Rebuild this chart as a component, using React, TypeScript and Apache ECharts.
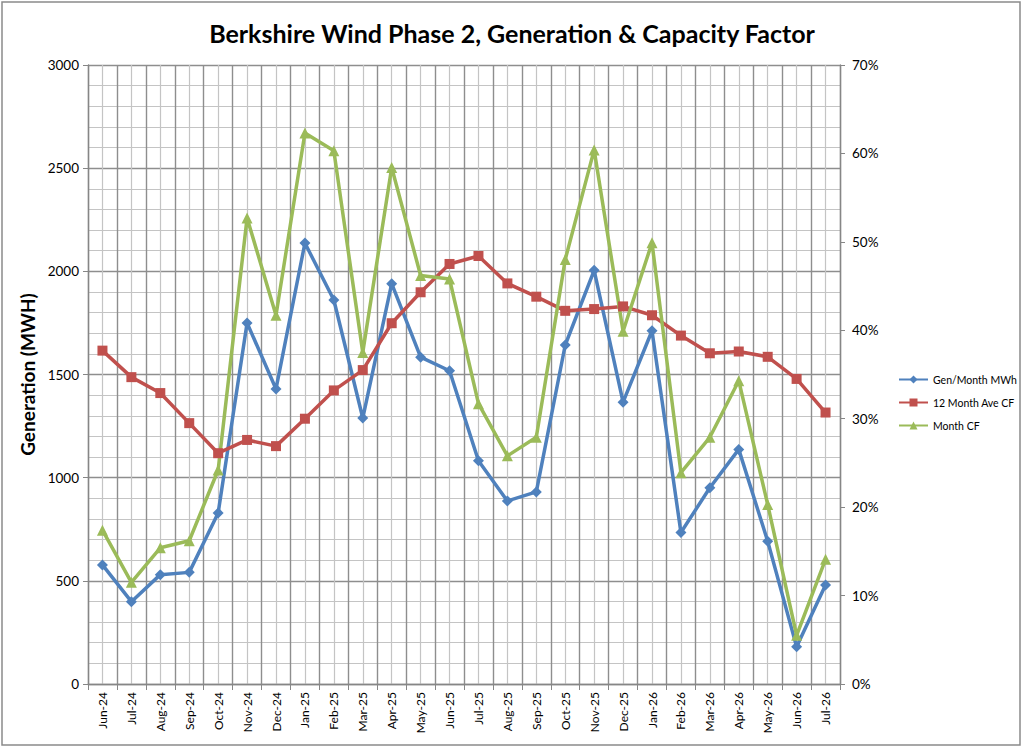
import React, { useEffect, useRef } from "react";
import * as echarts from "echarts";

const months = [
  "Jun-24", "Jul-24", "Aug-24", "Sep-24", "Oct-24", "Nov-24", "Dec-24",
  "Jan-25", "Feb-25", "Mar-25", "Apr-25", "May-25", "Jun-25", "Jul-25",
  "Aug-25", "Sep-25", "Oct-25", "Nov-25", "Dec-25", "Jan-26", "Feb-26",
  "Mar-26", "Apr-26", "May-26", "Jun-26", "Jul-26",
];

const genMonthMWh = [
  577, 399, 530, 541, 829, 1750, 1430, 2137, 1861, 1289, 1940, 1584, 1518,
  1082, 887, 931, 1643, 2005, 1366, 1712, 734, 951, 1137, 692, 180, 480,
];

const aveCF12Month = [
  37.7, 34.7, 32.9, 29.5, 26.1, 27.6, 26.9, 30.0, 33.2, 35.5, 40.8, 44.3,
  47.5, 48.4, 45.3, 43.8, 42.2, 42.4, 42.7, 41.7, 39.4, 37.4, 37.6, 37.0,
  34.5, 30.7,
];

const monthCF = [
  17.4, 11.5, 15.4, 16.2, 24.2, 52.7, 41.7, 62.3, 60.3, 37.5, 58.4, 46.2,
  45.8, 31.7, 25.8, 27.9, 48.0, 60.4, 39.9, 49.9, 23.9, 27.9, 34.3, 20.3,
  5.5, 14.1,
];

const FONT = "Lato, 'Open Sans', sans-serif";
const DARK_GRID = "#8e8e8e";
const LIGHT_GRID = "#c4c4c4";
const AXIS = "#868686";

export default function App() {
  const ref = useRef<HTMLDivElement>(null);

  useEffect(() => {
    document.body.style.margin = "0";
    if (!ref.current) return;
    const chart = echarts.init(ref.current, null, { renderer: "svg" });
    chart.setOption({
      animation: false,
      backgroundColor: "#ffffff",
      textStyle: { fontFamily: FONT },
      title: {
        text: "Berkshire Wind Phase 2, Generation & Capacity Factor",
        left: "center",
        top: 15,
        textStyle: { fontFamily: FONT, fontSize: 25, fontWeight: "bold", color: "#000" },
      },
      graphic: [
        {
          type: "rect",
          shape: { x: 2, y: 2, width: 1018, height: 743 },
          style: { fill: "none", stroke: "#8a8a8a", lineWidth: 1.5 },
          silent: true,
        },
      ],
      legend: {
        orient: "vertical",
        left: 893,
        top: 369,
        itemWidth: 29,
        itemHeight: 10,
        itemGap: 12,
        textStyle: { fontFamily: FONT, fontSize: 10.5, color: "#000" },
        data: ["Gen/Month MWh", "12 Month Ave CF", "Month CF"],
      },
      grid: { left: 88, right: 184, top: 65, bottom: 65, containLabel: false },
      xAxis: [
        {
          type: "category",
          data: months,
          boundaryGap: true,
          position: "bottom",
          axisLine: { show: true, lineStyle: { color: AXIS, width: 1.3 } },
          axisTick: { show: true, interval: 0, length: 6, lineStyle: { color: AXIS } },
          axisLabel: {
            interval: 0,
            rotate: 90,
            fontSize: 12,
            color: "#000",
            fontFamily: FONT,
            margin: 8,
          },
          splitLine: { show: false },
        },
        {
          type: "value",
          min: 0,
          max: 26,
          interval: 1,
          position: "top",
          axisLine: { show: false },
          axisTick: { show: false },
          axisLabel: { show: false },
          minorTick: { show: false, splitNumber: 2 },
          splitLine: { show: true, lineStyle: { color: DARK_GRID, width: 1.4 } },
          minorSplitLine: { show: true, lineStyle: { color: LIGHT_GRID, width: 1.2 } },
        },
      ],
      yAxis: [
        {
          type: "value",
          min: 0,
          max: 3000,
          interval: 500,
          name: "Generation (MWH)",
          nameLocation: "middle",
          nameGap: 48,
          nameTextStyle: { fontFamily: FONT, fontSize: 19, fontWeight: "bold", color: "#000" },
          axisLine: { show: true, lineStyle: { color: AXIS, width: 1.3 } },
          axisTick: { show: true, length: 5, lineStyle: { color: AXIS } },
          axisLabel: {
            fontSize: 13.5,
            color: "#000",
            fontFamily: FONT,
            margin: 9,
            formatter: (v: number) => String(v),
          },
          minorTick: { show: false, splitNumber: 5 },
          splitLine: { show: true, lineStyle: { color: DARK_GRID, width: 1.4 } },
          minorSplitLine: { show: true, lineStyle: { color: LIGHT_GRID, width: 1.2 } },
        },
        {
          type: "value",
          min: 0,
          max: 70,
          interval: 10,
          position: "right",
          axisLine: { show: true, lineStyle: { color: AXIS, width: 1.3 } },
          axisTick: { show: true, length: 5, lineStyle: { color: AXIS } },
          axisLabel: {
            fontSize: 13.5,
            color: "#000",
            fontFamily: FONT,
            margin: 12,
            formatter: "{value}%",
          },
          splitLine: { show: false },
        },
      ],
      series: [
        {
          name: "Gen/Month MWh",
          type: "line",
          xAxisIndex: 0,
          yAxisIndex: 0,
          data: genMonthMWh,
          symbol: "diamond",
          symbolSize: 11,
          lineStyle: { color: "#4F81BD", width: 3.5 },
          itemStyle: { color: "#4F81BD" },
        },
        {
          name: "12 Month Ave CF",
          type: "line",
          xAxisIndex: 0,
          yAxisIndex: 1,
          data: aveCF12Month,
          symbol: "rect",
          symbolSize: 10,
          lineStyle: { color: "#C0504D", width: 3.5 },
          itemStyle: { color: "#C0504D" },
        },
        {
          name: "Month CF",
          type: "line",
          xAxisIndex: 0,
          yAxisIndex: 1,
          data: monthCF,
          symbol: "triangle",
          symbolSize: 11,
          lineStyle: { color: "#9BBB59", width: 3.5 },
          itemStyle: { color: "#9BBB59" },
        },
      ],
    });
    return () => chart.dispose();
  }, []);

  return <div ref={ref} style={{ width: 1024, height: 749 }} />;
}
